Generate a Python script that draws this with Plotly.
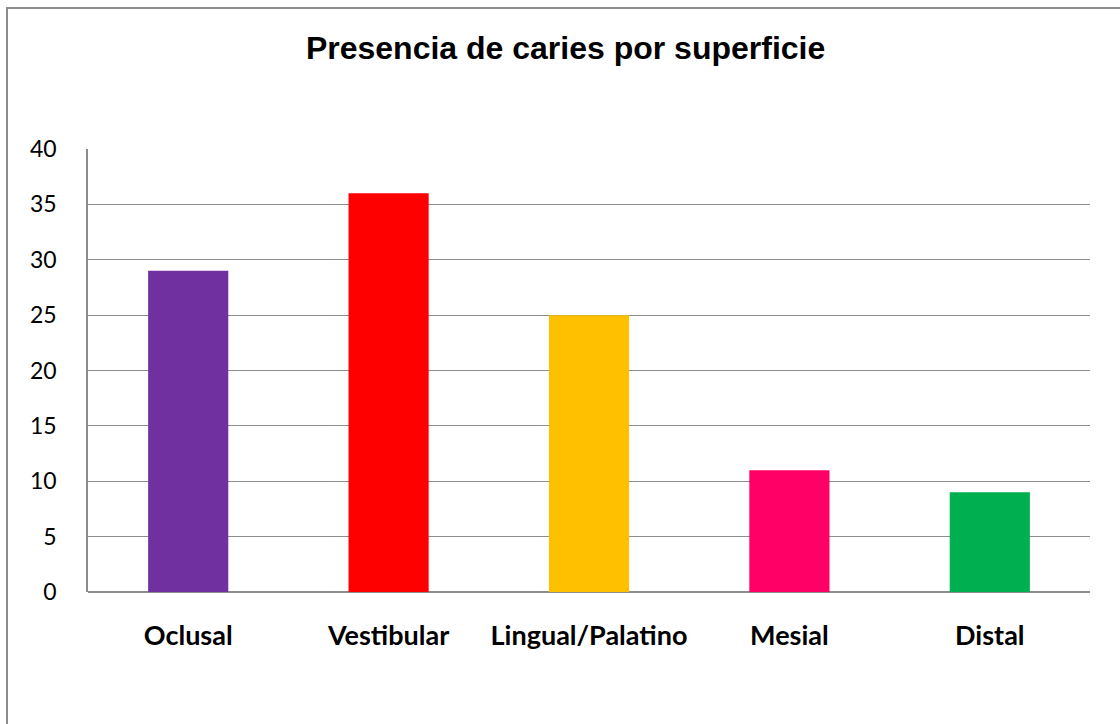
import plotly.graph_objects as go

categories = ["Oclusal", "Vestibular", "Lingual/Palatino", "Mesial", "Distal"]
values = [29, 36, 25, 11, 9]
colors = ["#7030A0", "#FF0000", "#FFC000", "#FF0066", "#00B050"]
y_ticks = [0, 5, 10, 15, 20, 25, 30, 35, 40]

W, H = 1120, 724
L, R, T, B = 88, 30, 149, 132
pw, ph = W - L - R, H - T - B

fig = go.Figure(go.Bar(x=categories, y=values, marker=dict(color=colors, line=dict(width=0)),
                       width=0.4, hoverinfo="x+y"))

def px_to_paper_x(px):
    return (px - L) / pw

def px_to_paper_y(py):
    return (H - B - py) / ph

fig.add_shape(type="rect", xref="paper", yref="paper",
              x0=px_to_paper_x(7), x1=px_to_paper_x(1130),
              y0=px_to_paper_y(740), y1=px_to_paper_y(8),
              line=dict(color="#8c8c8c", width=2), fillcolor="rgba(0,0,0,0)", layer="below")

fig.update_layout(
    width=W, height=H,
    margin=dict(l=L, r=R, t=T, b=B, pad=0),
    paper_bgcolor="white", plot_bgcolor="white",
    showlegend=False,
    title=dict(text="<b>Presencia de caries por superficie</b>", x=0.505, xanchor="center",
               y=1 - 48 / H, yanchor="middle",
               font=dict(family="Liberation Sans, Arial", size=32, color="black")),
    xaxis=dict(showgrid=False, showline=False, ticks="", zeroline=False,
               tickfont=dict(family="Lato", size=27, color="black", weight="bold"),
               ticklabelstandoff=25),
    yaxis=dict(range=[0, 40], tickvals=y_ticks, showgrid=True, gridcolor="#8c8c8c", gridwidth=1,
               showline=True, linecolor="#8c8c8c", linewidth=1.5, zeroline=True,
               zerolinecolor="#8c8c8c", zerolinewidth=1.5, ticks="",
               tickfont=dict(family="Lato", size=23, color="black"),
               ticklabelstandoff=25),
)

fig.write_html("out.html")
